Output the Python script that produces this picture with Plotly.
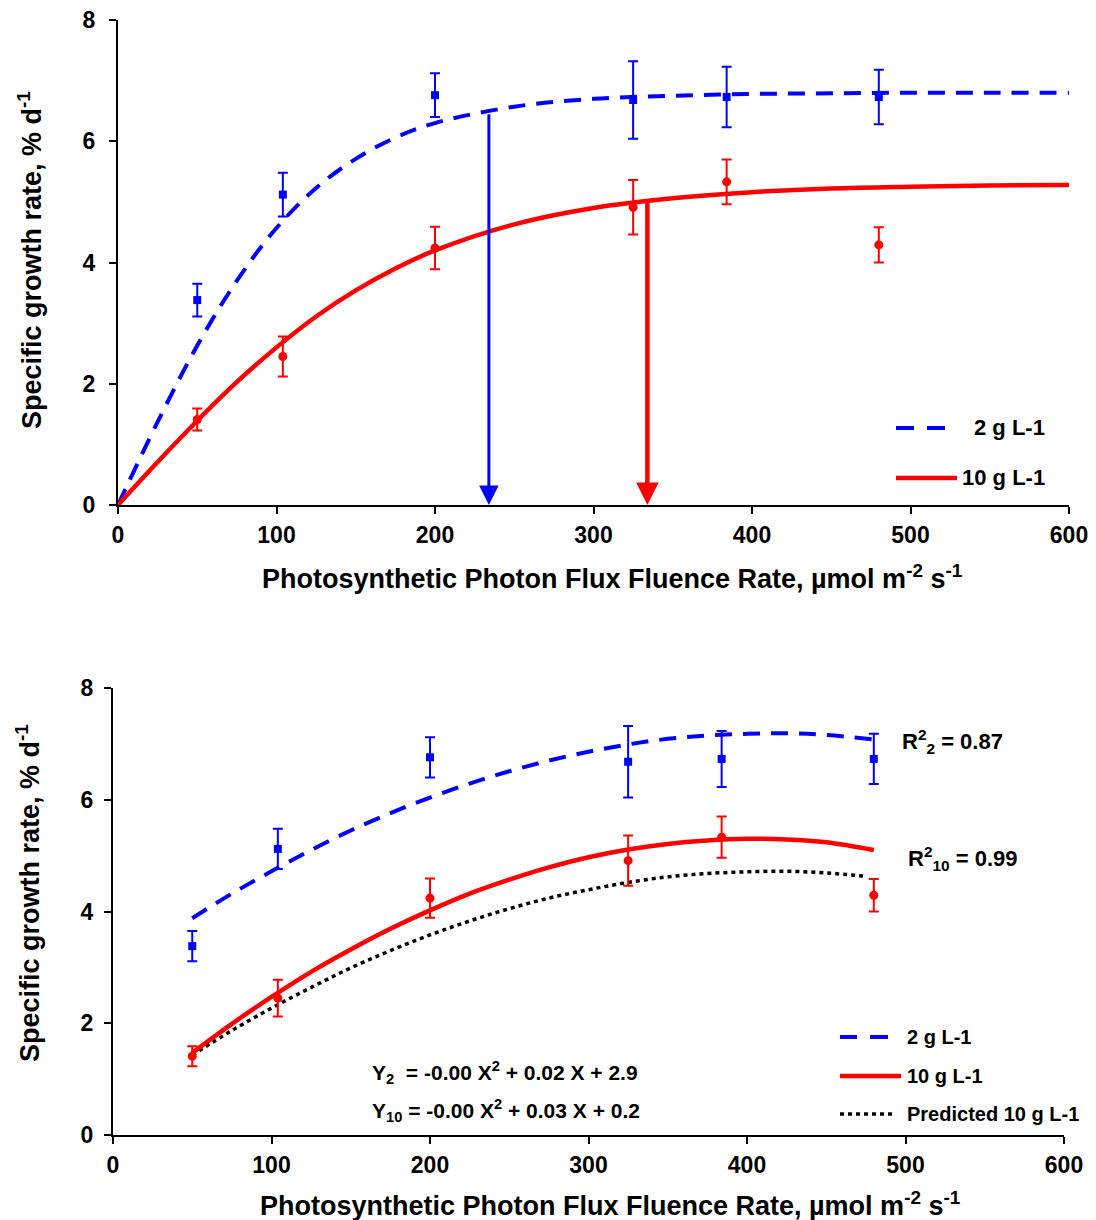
import plotly.graph_objects as go

# ---------------- data ----------------
ppf = [50, 104, 200, 325, 384, 480]
g2 = [3.38, 5.12, 6.76, 6.68, 6.73, 6.73]
g2_err = [0.27, 0.36, 0.36, 0.64, 0.50, 0.45]
g10 = [1.41, 2.45, 4.24, 4.91, 5.33, 4.29]
g10_err = [0.18, 0.33, 0.35, 0.45, 0.37, 0.29]

fit_x_top = [0, 25, 50, 75, 100, 125, 150, 175, 200, 250, 300, 350, 400, 450, 500, 550, 600]
fit2_top = [0, 1.37, 2.63, 3.70, 4.57, 5.23, 5.71, 6.06, 6.30, 6.57, 6.70, 6.75, 6.78, 6.79, 6.80, 6.80, 6.80]
fit10_top = [0, 0.71, 1.39, 2.03, 2.60, 3.11, 3.54, 3.90, 4.20, 4.63, 4.90, 5.06, 5.16, 5.22, 5.25, 5.27, 5.28]

arrow_x = [234, 334]
arrow_top = [6.47, 5.03]

quad_x = [50, 75, 100, 125, 150, 175, 200, 225, 250, 275, 300, 325, 350, 375, 400, 425, 450, 480]
quad2 = [3.88, 4.32, 4.72, 5.10, 5.45, 5.76, 6.04, 6.29, 6.51, 6.70, 6.86, 6.99, 7.09, 7.15, 7.18, 7.19, 7.16, 7.08]
quad10 = [1.47, 1.99, 2.47, 2.92, 3.32, 3.69, 4.02, 4.32, 4.57, 4.79, 4.97, 5.11, 5.21, 5.27, 5.30, 5.29, 5.24, 5.10]
pred_x = [50, 75, 100, 125, 150, 175, 200, 225, 250, 275, 300, 325, 350, 375, 400, 425, 450, 475]
pred10 = [1.43, 1.87, 2.27, 2.64, 2.99, 3.30, 3.58, 3.83, 4.05, 4.24, 4.39, 4.52, 4.62, 4.68, 4.71, 4.72, 4.69, 4.63]

x_ticks = [0, 100, 200, 300, 400, 500, 600]
y_ticks = [0, 2, 4, 6, 8]

BLUE = "#0000FF"
RED = "#FF0000"
FONT = "Liberation Sans"
OFF = 8                      # page body margin
W, H = 1096 - OFF, 1220 - OFF
DASH = "17px,11px"
DOT = "4px,4px"


def px(x, y):
    """screen pixel position -> paper coordinates of the figure"""
    return (x - OFF) / W, 1 - (y - OFF) / H


fig = go.Figure()

# ---------------- top panel ----------------
fig.add_trace(go.Scatter(x=fit_x_top, y=fit2_top, mode="lines", line=dict(color=BLUE, width=4, dash=DASH, shape="spline"),
                         xaxis="x", yaxis="y", showlegend=False))
fig.add_trace(go.Scatter(x=fit_x_top, y=fit10_top, mode="lines", line=dict(color=RED, width=4.5, shape="spline"),
                         xaxis="x", yaxis="y", showlegend=False))
fig.add_trace(go.Scatter(x=ppf, y=g2, mode="markers", marker=dict(symbol="square", size=8, color=BLUE),
                         error_y=dict(type="data", array=g2_err, color=BLUE, thickness=2, width=5),
                         xaxis="x", yaxis="y", showlegend=False))
fig.add_trace(go.Scatter(x=ppf, y=g10, mode="markers", marker=dict(symbol="circle", size=9, color=RED),
                         error_y=dict(type="data", array=g10_err, color=RED, thickness=2, width=5),
                         xaxis="x", yaxis="y", showlegend=False))

# ---------------- bottom panel ----------------
fig.add_trace(go.Scatter(x=quad_x, y=quad2, mode="lines", line=dict(color=BLUE, width=4, dash=DASH, shape="spline"),
                         xaxis="x2", yaxis="y2", showlegend=False))
fig.add_trace(go.Scatter(x=pred_x, y=pred10, mode="lines", line=dict(color="black", width=3.5, dash=DOT, shape="spline"),
                         xaxis="x2", yaxis="y2", showlegend=False))
fig.add_trace(go.Scatter(x=quad_x, y=quad10, mode="lines", line=dict(color=RED, width=4.5, shape="spline"),
                         xaxis="x2", yaxis="y2", showlegend=False))
fig.add_trace(go.Scatter(x=ppf, y=g2, mode="markers", marker=dict(symbol="square", size=8, color=BLUE),
                         error_y=dict(type="data", array=g2_err, color=BLUE, thickness=2, width=5),
                         xaxis="x2", yaxis="y2", showlegend=False))
fig.add_trace(go.Scatter(x=ppf, y=g10, mode="markers", marker=dict(symbol="circle", size=9, color=RED),
                         error_y=dict(type="data", array=g10_err, color=RED, thickness=2, width=5),
                         xaxis="x2", yaxis="y2", showlegend=False))

axis_common = dict(showgrid=False, zeroline=False, showline=True, linecolor="black", linewidth=2,
                   ticks="outside", ticklen=7, tickwidth=2, tickcolor="black", automargin=False,
                   ticklabeloverflow="allow",
                   tickfont=dict(family=FONT, size=23, color="black", weight="bold"))

x0, y0 = px(118, 505)
x1, y1 = px(1069, 20)
bx0, by0 = px(113, 1135)
bx1, by1 = px(1064, 688)

fig.update_layout(
    template="none",
    width=W, height=H, autosize=False,
    margin=dict(l=0, r=0, t=0, b=0, pad=0),
    paper_bgcolor="white", plot_bgcolor="white",
    xaxis=dict(domain=[x0, x1], range=[0, 600], anchor="y", tickvals=x_ticks, ticklabelstandoff=1, **axis_common),
    yaxis=dict(domain=[y0, y1], range=[0, 8], anchor="x", tickvals=y_ticks, ticklabelstandoff=9, **axis_common),
    xaxis2=dict(domain=[bx0, bx1], range=[0, 600], anchor="y2", tickvals=x_ticks, ticklabelstandoff=1, **axis_common),
    yaxis2=dict(domain=[by0, by1], range=[0, 8], anchor="x2", tickvals=y_ticks, ticklabelstandoff=6, **axis_common),
)

annotations = []
shapes = []

# arrows (top)
for ax_, at_, col, wd, sz in [(arrow_x[0], arrow_top[0], BLUE, 3, 1.3), (arrow_x[1], arrow_top[1], RED, 4.5, 1.0)]:
    annotations.append(dict(x=ax_, y=0, ax=ax_, ay=at_, xref="x", yref="y", axref="x", ayref="y",
                            text="", showarrow=True, arrowhead=2, arrowsize=sz, arrowwidth=wd, arrowcolor=col,
                            standoff=0, startstandoff=0))

title_font = dict(family=FONT, size=27, color="black", weight="bold")
ytitle = "Specific growth rate, % d<sup>-1</sup>"
xtitle = "Photosynthetic Photon Flux Fluence Rate, µmol m<sup>-2</sup> s<sup>-1</sup>"

for (cx, cy) in [(30, 260), (28, 893)]:
    X, Y = px(cx, cy)
    annotations.append(dict(x=X, y=Y, xref="paper", yref="paper", text=ytitle, textangle=-90, showarrow=False,
                            font=title_font, xanchor="center", yanchor="middle"))
for (cx, cy) in [(612, 577), (610, 1204)]:
    X, Y = px(cx, cy)
    annotations.append(dict(x=X, y=Y, xref="paper", yref="paper", text=xtitle, showarrow=False,
                            font=title_font, xanchor="center", yanchor="middle"))


def label(text, x, y, size, anchor="left"):
    X, Y = px(x, y)
    annotations.append(dict(x=X, y=Y, xref="paper", yref="paper", text=text, showarrow=False,
                            font=dict(family=FONT, size=size, color="black", weight="bold"),
                            xanchor=anchor, yanchor="middle"))


def seg(xa, xb, y, color, width, dash="solid"):
    Xa, Y = px(xa, y)
    Xb, _ = px(xb, y)
    shapes.append(dict(type="line", xref="paper", yref="paper", x0=Xa, x1=Xb, y0=Y, y1=Y,
                       line=dict(color=color, width=width, dash=dash)))


# top legend
seg(896, 914, 428, BLUE, 4)
seg(927, 945, 428, BLUE, 4)
seg(896, 957, 478, RED, 4.5)
label("2 g L-1", 1047, 428, 22, "right")
label("10 g L-1", 1047, 478, 22, "right")

# bottom legend
seg(840, 857, 1037, BLUE, 4)
seg(870, 888, 1037, BLUE, 4)
seg(840, 901, 1076, RED, 4.5)
seg(840, 896, 1114, "black", 3.5, DOT)
label("2 g L-1", 905, 1037, 20)
label("10 g L-1", 905, 1076, 20)
label("Predicted 10 g L-1", 905, 1114, 20)

# R2 and equations
label("R<sup>2</sup><sub>2</sub> = 0.87", 900, 741, 22)
label("R<sup>2</sup><sub>10</sub> = 0.99", 906, 858, 22)
label("Y<sub>2</sub>  = -0.00 X<sup>2</sup> + 0.02 X + 2.9", 370, 1072, 21)
label("Y<sub>10</sub> = -0.00 X<sup>2</sup> + 0.03 X + 0.2", 370, 1110, 21)

fig.update_layout(annotations=annotations, shapes=shapes)

fig.write_html("out.html")
